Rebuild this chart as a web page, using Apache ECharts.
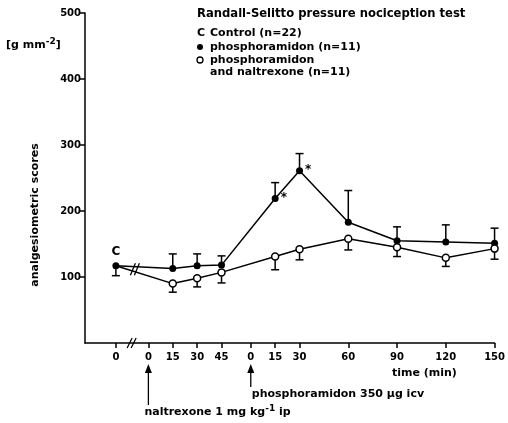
<!DOCTYPE html>
<html lang="en">
<head>
<meta charset="UTF-8">
<script src="https://cdn.jsdelivr.net/npm/echarts@6.0.0/dist/echarts.min.js"></script>
<style>
    html, body { margin: 0; padding: 0; background: #fff; }
    #main { width: 508px; height: 423px; }
</style>
<title>Randall-Selitto pressure nociception test</title>
</head>
<body>
<div id="main"></div>
<script type="text/javascript">
    // drawing axis: one minute scale, the two time lines placed one after the other
    var controlPos = -20;
    var naltrexoneStart = 0;
    var phosphoStart = 63;

    var naltrexoneTicks = [0, 15, 30, 45];
    var phosphoTicks = [0, 15, 30, 60, 90, 120, 150];

    // control value
    var controlValue = 117;
    var controlLow = 102;

    // times of the measured points after the break
    var naltrexoneTimes = [15, 30, 45];
    var phosphoTimes = [15, 30, 60, 90, 120, 150];

    // phosphoramidon (n=11), filled circles, error bar up
    var phosphoValues = [113, 117, 118, 219, 261, 183, 155, 153, 151];
    var phosphoUpper = [135, 135, 132, 243, 287, 231, 176, 179, 174];
    var phosphoStars = [3, 4];

    // phosphoramidon and naltrexone (n=11), open circles, error bar down
    var naltrexValues = [90, 98, 107, 131, 142, 158, 145, 129, 143];
    var naltrexLower = [77, 85, 91, 111, 126, 141, 131, 116, 127];

    var FONT = 'DejaVu Sans';

    // positions on the drawing axis
    var pointPos = naltrexoneTimes.map(function (t) { return naltrexoneStart + t; })
        .concat(phosphoTimes.map(function (t) { return phosphoStart + t; }));
    var tickPos = [controlPos]
        .concat(naltrexoneTicks.map(function (t) { return naltrexoneStart + t; }))
        .concat(phosphoTicks.map(function (t) { return phosphoStart + t; }));
    var tickLabels = ['0']
        .concat(naltrexoneTicks.map(String))
        .concat(phosphoTicks.map(String));

    function labelFor(v) {
        var i = tickPos.indexOf(v);
        return i >= 0 ? tickLabels[i] : '';
    }

    var phosphoData = [{ value: [controlPos, controlValue], symbol: 'none' }];
    var naltrexData = [{ value: [controlPos, controlValue], symbol: 'none' }];
    var errData = [[controlPos, controlValue, controlLow]];
    for (var i = 0; i < pointPos.length; i++) {
        var item = { value: [pointPos[i], phosphoValues[i]] };
        if (phosphoStars.indexOf(i) >= 0) {
            item.label = {
                show: true, formatter: '*', position: 'right', distance: 2,
                offset: [0, -1], color: '#000', fontSize: 12, fontWeight: 'bold', fontFamily: FONT
            };
        }
        phosphoData.push(item);
        naltrexData.push({ value: [pointPos[i], naltrexValues[i]] });
        errData.push([pointPos[i], phosphoValues[i], phosphoUpper[i]]);
        errData.push([pointPos[i], naltrexValues[i], naltrexLower[i]]);
    }

    var chartDom = document.getElementById('main');
    var myChart = echarts.init(chartDom);
    var option;

    option = {
        animation: false,
        backgroundColor: '#fff',
        grid: { left: 85, right: 5, top: 13, bottom: 80 },
        xAxis: {
            type: 'value',
            min: -39,
            max: 213,
            splitLine: { show: false },
            axisLine: { onZero: false, lineStyle: { color: '#000', width: 1.5 } },
            axisTick: {
                customValues: tickPos,
                length: 5,
                lineStyle: { color: '#000', width: 1.5 }
            },
            axisLabel: {
                customValues: tickPos,
                formatter: labelFor,
                color: '#000',
                fontFamily: FONT,
                fontSize: 10,
                fontWeight: 'bold',
                margin: 9
            }
        },
        yAxis: {
            type: 'value',
            min: 0,
            max: 500,
            interval: 100,
            splitLine: { show: false },
            axisLine: { show: true, onZero: false, lineStyle: { color: '#000', width: 1.5 } },
            axisTick: { show: true, length: 6, lineStyle: { color: '#000', width: 1.5 } },
            axisLabel: {
                showMinLabel: false,
                color: '#000',
                fontFamily: FONT,
                fontSize: 10,
                fontWeight: 'bold',
                margin: 4
            }
        },
        series: [
            {
                name: 'error bars',
                type: 'custom',
                z: 1,
                data: errData,
                renderItem: function (params, api) {
                    var p0 = api.coord([api.value(0), api.value(1)]);
                    var p1 = api.coord([api.value(0), api.value(2)]);
                    return {
                        type: 'group',
                        children: [
                            { type: 'line', shape: { x1: p0[0], y1: p0[1], x2: p1[0], y2: p1[1] },
                              style: { stroke: '#000', lineWidth: 1.5 } },
                            { type: 'line', shape: { x1: p1[0] - 4, y1: p1[1], x2: p1[0] + 4, y2: p1[1] },
                              style: { stroke: '#000', lineWidth: 1.5 } }
                        ]
                    };
                }
            },
            {
                name: 'phosphoramidon (n=11)',
                type: 'line',
                z: 3,
                data: phosphoData,
                symbol: 'circle',
                symbolSize: 7,
                lineStyle: { color: '#000', width: 1.5 },
                itemStyle: { color: '#000' }
            },
            {
                name: 'phosphoramidon and naltrexone (n=11)',
                type: 'line',
                z: 4,
                data: naltrexData,
                symbol: 'circle',
                symbolSize: 7,
                lineStyle: { color: '#000', width: 1.5 },
                itemStyle: { color: '#fff', borderColor: '#000', borderWidth: 1.5 }
            },
            {
                name: 'Control (n=22)',
                type: 'scatter',
                z: 5,
                data: [[controlPos, controlValue]],
                symbol: 'circle',
                symbolSize: 7,
                itemStyle: { color: '#000', opacity: 1 },
                label: {
                    show: true, formatter: 'C', position: 'top', distance: 4, opacity: 1,
                    color: '#000', fontSize: 12, fontWeight: 'bold', fontFamily: FONT
                }
            }
        ]
    };
    option && myChart.setOption(option);

    // annotations that depend on the axes
    function px(x, y) { return myChart.convertToPixel({ gridIndex: 0 }, [x, y]); }

    var axisBreakX = -10;
    var lineBreakX = -8;
    var frac = (lineBreakX - controlPos) / (pointPos[0] - controlPos);
    var yFilled = controlValue + frac * (phosphoValues[0] - controlValue);
    var yOpen = controlValue + frac * (naltrexValues[0] - controlValue);

    var ab = px(axisBreakX, 0);
    var lb = px(lineBreakX, (yFilled + yOpen) / 2);
    var nal0 = px(naltrexoneStart, 0);
    var pho0 = px(phosphoStart, 0);

    function slashes(cx, cy, h) {
        return [
            { type: 'rect', shape: { x: cx - 4, y: cy - h / 2 + 2, width: 8, height: h - 4 }, style: { fill: '#fff' } },
            { type: 'line', shape: { x1: cx - 5, y1: cy + h / 2, x2: cx, y2: cy - h / 2 }, style: { stroke: '#000', lineWidth: 1.3 } },
            { type: 'line', shape: { x1: cx - 1, y1: cy + h / 2, x2: cx + 4, y2: cy - h / 2 }, style: { stroke: '#000', lineWidth: 1.3 } }
        ];
    }

    function txt(x, y, text, size, extra) {
        var s = { text: text, x: x, y: y, fill: '#000', font: 'bold ' + size + 'px "' + FONT + '"',
                  textVerticalAlign: 'middle' };
        for (var k in extra) s[k] = extra[k];
        return { type: 'text', style: s, z: 10 };
    }

    var supRich = {
        b: { fontFamily: FONT, fontWeight: 'bold', fontSize: 11, fill: '#000' },
        s: { fontFamily: FONT, fontWeight: 'bold', fontSize: 9, fill: '#000', verticalAlign: 'top', padding: [0, 0, 6, 0] }
    };

    var graphics = []
        .concat(slashes(ab[0], ab[1], 10))
        .concat(slashes(lb[0], lb[1], 12))
        .concat([
            // legend
            txt(197, 14, 'Randall-Selitto pressure nociception test', 11.6),
            txt(197, 33, 'C', 11),
            txt(210, 33, 'Control (n=22)', 11),
            { type: 'circle', shape: { cx: 200, cy: 47, r: 3 }, style: { fill: '#000' }, z: 10 },
            txt(210, 47, 'phosphoramidon (n=11)', 11),
            { type: 'circle', shape: { cx: 200, cy: 60, r: 3 }, style: { fill: '#fff', stroke: '#000', lineWidth: 1.3 }, z: 10 },
            txt(210, 60, 'phosphoramidon', 11),
            txt(210, 72, 'and naltrexone (n=11)', 11),
            // axis names
            { type: 'text', x: 6, y: 45, z: 10,
              style: { text: '{b|[g mm}{s|-2}{b|]}', rich: supRich, textVerticalAlign: 'middle' } },
            { type: 'text', x: 35, y: 215, rotation: Math.PI / 2, z: 10,
              style: { text: 'analgesiometric scores', fill: '#000', font: 'bold 11px "' + FONT + '"',
                       textAlign: 'center', textVerticalAlign: 'middle' } },
            txt(392, 373, 'time (min)', 11),
            // injection arrows
            { type: 'line', shape: { x1: nal0[0], y1: 372, x2: nal0[0], y2: 405 }, style: { stroke: '#000', lineWidth: 1.3 }, z: 10 },
            { type: 'polygon', shape: { points: [[nal0[0], 364], [nal0[0] - 3.5, 373], [nal0[0] + 3.5, 373]] }, style: { fill: '#000' }, z: 10 },
            { type: 'line', shape: { x1: pho0[0], y1: 372, x2: pho0[0], y2: 387 }, style: { stroke: '#000', lineWidth: 1.3 }, z: 10 },
            { type: 'polygon', shape: { points: [[pho0[0], 364], [pho0[0] - 3.5, 373], [pho0[0] + 3.5, 373]] }, style: { fill: '#000' }, z: 10 },
            txt(pho0[0] + 1, 394, 'phosphoramidon 350 µg icv', 11),
            { type: 'text', x: nal0[0] - 4, y: 412, z: 10,
              style: { text: '{b|naltrexone 1 mg kg}{s|-1}{b| ip}', rich: supRich, textVerticalAlign: 'middle' } }
        ]);

    myChart.setOption({ graphic: graphics });
</script>
</body>
</html>
